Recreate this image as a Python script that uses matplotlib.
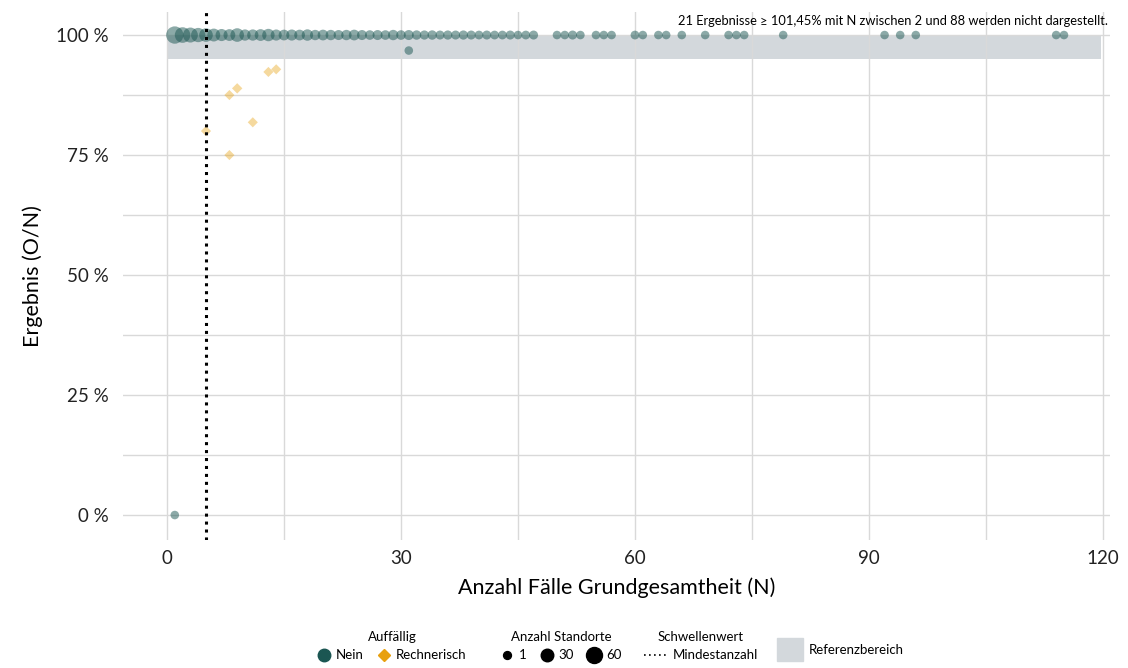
import numpy as np
import matplotlib
matplotlib.use("Agg")
import matplotlib.pyplot as plt
from matplotlib.lines import Line2D
from matplotlib.patches import Patch

plt.rcParams['font.family'] = ['Lato', 'DejaVu Sans']

# Ergebnisse "Nein" (nicht auffällig): N, Ergebnis in %, Anzahl Standorte
n_full = list(range(1, 48)) + [50, 51, 52, 53, 55, 56, 57, 60, 61, 63, 64, 66,
                               69, 72, 73, 74, 79, 92, 94, 96, 114, 115]
cnt_full = [60, 45, 40, 35, 30, 25, 20, 18, 30, 15, 15, 18, 22, 14, 12, 14, 12,
            16, 10, 12, 10, 8, 10, 12, 8, 6, 8, 6, 10, 6, 8, 5, 4, 5, 3, 4, 3,
            4, 3, 2, 3, 2, 2, 3, 1, 2, 3,
            1, 1, 3, 1, 1, 1, 1, 2, 1, 1, 1, 1, 1, 1, 1, 1, 1, 1, 1, 1, 1, 1]
n_other = [1, 31]
val_other = [0.0, 96.77]
cnt_other = [1, 1]

# Rechnerisch auffällig
n_auff = [5, 8, 8, 9, 11, 13, 14]
val_auff = [80.0, 87.5, 75.0, 88.89, 81.82, 92.31, 92.86]
cnt_auff = [1, 1, 1, 2, 1, 1, 1]

ref_x = [0, 119.7]
ref_range = [95, 100]
mindestanzahl = 5

teal = "#1b5652"
orange = "#e8a00e"
band = "#d3d8dc"
grid = "#d9d9d9"


def size(c):
    return 36 + 2.0 * np.asarray(c)


fig = plt.figure(figsize=(11.28, 6.68), dpi=100)
ax = fig.add_axes([123 / 1128, 1 - 540 / 668, (1110 - 123) / 1128, (540 - 12) / 668])

ax.fill_between(ref_x, ref_range[0], ref_range[1], color=band, lw=0, zorder=0.3)

x_all = n_full + n_other
y_all = [100.0] * len(n_full) + val_other
c_all = cnt_full + cnt_other
ax.scatter(x_all, y_all, s=size(c_all), color=teal, alpha=0.5, lw=0, zorder=3)
ax.scatter(n_auff, val_auff, s=size(cnt_auff) * 0.7, marker="D", color=orange,
           alpha=0.4, lw=0, zorder=3)

ax.axvline(mindestanzahl, color="black", ls=(0, (1, 1.6)), lw=2.2, zorder=4)

ax.set_xlim(-5.64, 120.9)
ax.set_ylim(-5.2, 104.8)
ax.set_xticks([0, 30, 60, 90, 120])
ax.set_xticks([15, 45, 75, 105], minor=True)
ax.set_yticks([0, 25, 50, 75, 100])
ax.set_yticklabels(["0 %", "25 %", "50 %", "75 %", "100 %"])
ax.set_yticks([12.5, 37.5, 62.5, 87.5], minor=True)
ax.grid(True, which="both", color=grid, lw=1.0)
ax.set_axisbelow(True)
for sp in ax.spines.values():
    sp.set_visible(False)
ax.tick_params(which="both", length=0, labelsize=13.5, colors="#222222")
ax.tick_params(axis="y", pad=10)
ax.tick_params(axis="x", pad=7)

ax.set_xlabel("Anzahl Fälle Grundgesamtheit (N)", fontsize=15.5, labelpad=8)
ax.set_ylabel("Ergebnis (O/N)", fontsize=15.5, labelpad=10)

ax.text(0.998, 0.995, "21 Ergebnisse ≥ 101,45% mit N zwischen 2 und 88 werden nicht dargestellt.",
        transform=ax.transAxes, ha="right", va="top", fontsize=9.3)

# Legenden
leg_kw = dict(frameon=False, fontsize=9.5, title_fontsize=9.5, handletextpad=0.4,
              columnspacing=1.0, borderpad=0, handlelength=1.0)
h1 = [Line2D([], [], marker="o", ls="", color=teal, markersize=9),
      Line2D([], [], marker="D", ls="", color=orange, markersize=6.5)]
l1 = fig.legend(h1, ["Nein", "Rechnerisch"], title="Auffällig", ncol=2,
                loc="lower center", bbox_to_anchor=(392 / 1128, 0.0), **leg_kw)
h2 = [Line2D([], [], marker="o", ls="", color="black", markersize=np.sqrt(s))
      for s in size([1, 30, 60]) * 0.85]
l2 = fig.legend(h2, ["1", "30", "60"], title="Anzahl Standorte", ncol=3,
                loc="lower center", bbox_to_anchor=(561 / 1128, 0.0), **leg_kw)
h3 = [Line2D([], [], color="black", ls=(0, (1, 2)), lw=1.2)]
l3 = fig.legend(h3, ["Mindestanzahl"], title="Schwellenwert", ncol=1,
                loc="lower center", bbox_to_anchor=(701 / 1128, 0.0),
                **{**leg_kw, "handlelength": 1.8})
h4 = [Patch(color=band)]
l4 = fig.legend(h4, ["Referenzbereich"], title=" ", ncol=1,
                loc="lower center", bbox_to_anchor=(840 / 1128, 0.0),
                **{**leg_kw, "handlelength": 2.0, "handleheight": 2.3})

fig.savefig("out.png", dpi=100)
